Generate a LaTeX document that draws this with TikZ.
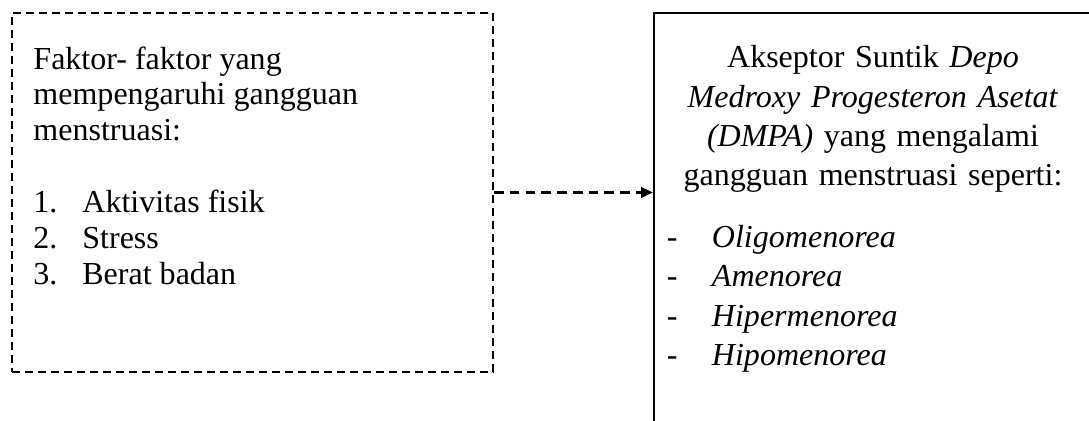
\documentclass[tikz,border=0pt]{standalone}
\usepackage{fontspec}
\setmainfont{Liberation Serif}
\usepackage{tikz}
\usetikzlibrary{arrows.meta, positioning, calc}
\tikzset{
  factorbox/.style={rectangle, draw, line width=0.85pt, dash pattern=on 3.4pt off 2.2pt, minimum width=207.3pt, minimum height=154.7pt, inner sep=0pt},
  acceptorbox/.style={rectangle, draw, line width=1.15pt, minimum width=192.2pt, minimum height=184pt, inner sep=0pt},
  lefttext/.style={inner sep=0pt, font=\fontsize{13.8pt}{15.5pt}\selectfont},
  righttext/.style={inner sep=0pt, font=\fontsize{13.8pt}{17pt}\selectfont},
  darrow/.style={-{Triangle[length=5pt, width=4.6pt]}, line width=1pt, dash pattern=on 4.2pt off 2.6pt},
}

\begin{document}
\begin{tikzpicture}[x=0.431pt, y=-0.431pt]
  \useasboundingbox (0,0) rectangle (1089,421);
  \clip (0,0) rectangle (1089,421);

  % Left box: factors
  \node[factorbox] (factor) at (252.5,192.5) {};
  \node[lefttext, anchor=north west, align=left] (factortext) at (33,46) {%
    Faktor- faktor yang\\
    mempengaruhi gangguan\\
    menstruasi:\\[15.5pt]
    \makebox[21.1pt][l]{1.}Aktivitas fisik\\
    \makebox[21.1pt][l]{2.}Stress\\
    \makebox[21.1pt][l]{3.}Berat badan};

  % Right box: DMPA acceptors (cut off at the edge)
  \node[acceptorbox] (acceptor) at (877,226.5) {};
  \node[righttext, anchor=north, text width=181pt] (acceptortext) at (873,45) {%
    {\centering Akseptor Suntik \textit{Depo}\\
    \textit{Medroxy Progesteron Asetat}\\
    \textit{(DMPA)} yang mengalami\\
    gangguan menstruasi seperti:\par}
    \vspace{9.5pt}
    {\raggedright
    \hspace*{1.7pt}\makebox[19.4pt][l]{-}\textit{Oligomenorea}\\
    \hspace*{1.7pt}\makebox[19.4pt][l]{-}\textit{Amenorea}\\
    \hspace*{1.7pt}\makebox[19.4pt][l]{-}\textit{Hipermenorea}\\
    \hspace*{1.7pt}\makebox[19.4pt][l]{-}\textit{Hipomenorea}\par}};

  % Arrow
  \draw[darrow] (factor.east) -- (factor.east -| acceptor.west);
\end{tikzpicture}
\end{document}
